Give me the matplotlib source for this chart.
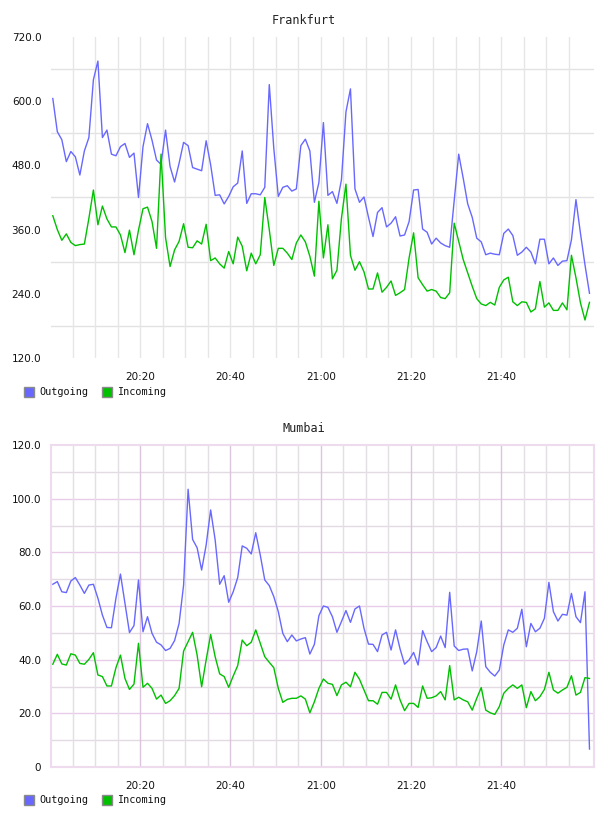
import numpy as np
import matplotlib
matplotlib.use('Agg')
import matplotlib.pyplot as plt
from matplotlib.patches import Rectangle
from matplotlib.ticker import FuncFormatter

# one sample per minute, minutes after 20:00
minutes = np.arange(120) + 0.6
time_ticks = [20, 40, 60, 80, 100]

fra_out = [605, 543, 528, 487, 506, 496, 462, 507, 532, 640,
           675, 532, 546, 501, 498, 515, 521, 495, 503, 420,
           515, 558, 527, 490, 482, 546, 478, 449, 484, 523,
           517, 476, 473, 470, 526, 481, 424, 425, 408, 422,
           440, 447, 507, 409, 427, 427, 425, 439, 631, 512,
           422, 439, 442, 432, 436, 517, 529, 507, 411, 448,
           560, 424, 431, 409, 453, 580, 623, 436, 411, 421,
           383, 347, 392, 401, 365, 372, 384, 348, 350, 375,
           434, 435, 361, 355, 333, 344, 335, 330, 327, 414,
           501, 456, 408, 383, 344, 337, 313, 316, 314, 313,
           353, 361, 349, 312, 318, 327, 318, 296, 342, 342,
           296, 307, 293, 301, 302, 341, 416, 353, 294, 241]
fra_in = [386, 360, 340, 352, 336, 330, 332, 333, 381, 434,
          369, 404, 380, 365, 365, 350, 317, 359, 313, 359,
          399, 402, 375, 325, 501, 345, 291, 322, 338, 371,
          327, 326, 339, 333, 370, 302, 307, 296, 288, 319,
          296, 346, 329, 283, 316, 296, 313, 420, 360, 293,
          325, 325, 316, 304, 335, 350, 337, 310, 273, 413,
          307, 369, 268, 284, 381, 445, 312, 284, 300, 281,
          249, 249, 279, 243, 252, 264, 237, 242, 248, 307,
          354, 270, 257, 245, 248, 245, 233, 231, 242, 372,
          338, 304, 279, 254, 231, 221, 218, 224, 219, 252,
          266, 271, 225, 218, 225, 224, 206, 212, 263, 215,
          223, 209, 209, 223, 210, 312, 270, 223, 191, 224]

mum_out = [68.1, 69.1, 65.3, 65.0, 69.3, 70.6, 67.8, 64.7, 67.8, 68.1,
           62.9, 56.6, 52.0, 51.9, 62.9, 71.9, 61.0, 50.1, 52.7, 69.7,
           50.4, 56.0, 49.8, 46.5, 45.5, 43.4, 44.2, 47.1, 53.5, 67.8,
           103.5, 84.8, 81.7, 73.4, 82.7, 95.8, 84.6, 68.1, 71.3, 61.4,
           65.3, 70.6, 82.4, 81.5, 79.4, 87.3, 79.0, 69.7, 67.6, 63.5,
           57.9, 49.8, 46.7, 49.2, 47.0, 47.7, 48.2, 42.1, 45.7, 56.4,
           60.0, 59.5, 56.0, 50.2, 54.2, 58.3, 53.9, 58.9, 60.0, 51.7,
           45.8, 45.7, 43.0, 49.2, 50.2, 43.6, 51.1, 44.0, 38.3, 39.9,
           42.7, 38.0, 50.8, 46.7, 43.0, 44.5, 48.8, 44.5, 65.1, 45.1,
           43.4, 43.9, 44.0, 35.8, 43.0, 54.4, 37.4, 35.3, 33.9, 36.1,
           45.5, 51.1, 50.2, 51.7, 58.8, 44.8, 53.5, 50.4, 51.7, 55.4,
           68.8, 57.9, 54.4, 56.9, 56.6, 64.7, 56.0, 53.8, 65.3, 6.7]
mum_in = [38.3, 42.0, 38.4, 38.0, 42.2, 41.7, 38.6, 38.3, 40.1, 42.6,
          34.3, 33.7, 30.2, 30.2, 37.0, 41.7, 33.0, 28.9, 30.9, 46.1,
          29.7, 31.2, 29.3, 25.3, 26.8, 23.7, 24.7, 26.6, 29.3, 43.2,
          46.7, 50.2, 41.7, 29.9, 39.9, 49.4, 41.1, 34.7, 33.7, 29.7,
          33.9, 37.8, 47.3, 45.2, 46.5, 51.1, 46.1, 41.1, 39.0, 37.0,
          29.3, 24.1, 25.2, 25.6, 25.6, 26.5, 25.3, 20.2, 24.3, 29.3,
          32.8, 31.2, 30.8, 26.6, 30.6, 31.6, 29.9, 35.3, 32.7, 28.7,
          24.7, 24.7, 23.4, 27.8, 27.8, 25.3, 30.6, 25.0, 21.0, 23.7,
          23.7, 22.2, 30.2, 25.6, 25.8, 26.5, 28.1, 25.0, 37.8, 25.0,
          26.0, 25.0, 24.3, 21.2, 25.6, 29.6, 21.2, 20.2, 19.6, 22.5,
          27.5, 29.3, 30.6, 29.3, 30.6, 22.1, 28.1, 24.7, 26.2, 28.9,
          35.3, 28.7, 27.5, 28.7, 29.7, 34.0, 26.8, 27.8, 33.3, 33.0]

series_names = ['Outgoing', 'Incoming']
out_color = '#6868ff'
in_color = '#00c000'

W, H = 608, 816
fig = plt.figure(figsize=(W / 100, H / 100), dpi=100)


def box(left, top, right, bottom):
    # pixel box -> figure fraction rect
    return [left / W, 1 - bottom / H, (right - left) / W, (bottom - top) / H]


def time_label(m, pos):
    m = int(round(m))
    return '%d:%02d' % (20 + m // 60, m % 60)


def setup_axis(ax):
    ax.set_xlim(0.2, 120.6)
    ax.set_xticks(time_ticks)
    ax.xaxis.set_major_formatter(FuncFormatter(time_label))
    ax.tick_params(length=0, labelsize=7.5, colors='#111111')
    ax.tick_params(axis='x', pad=10)
    ax.tick_params(axis='y', pad=7)
    ax.set_axisbelow(True)


def legend_row(y):
    for x0, name, col in [(24, series_names[0], out_color), (102, series_names[1], in_color)]:
        fig.add_artist(Rectangle((x0 / W, 1 - (y + 5) / H), 10 / W, 10 / H,
                                 transform=fig.transFigure, facecolor=col,
                                 edgecolor='#8a8a8a', linewidth=1.0))
        fig.text((x0 + 15) / W, 1 - y / H, name, family='DejaVu Sans Mono',
                 fontsize=7.3, va='center', ha='left', color='#111111')


# Frankfurt
ax1 = fig.add_axes(box(51, 37, 594, 358))
for v in [180, 300, 420, 540, 660]:
    ax1.axhline(v, color='#e2e2e2', lw=1.0, zorder=0)
for m in range(5, 120, 5):
    ax1.axvline(m, color='#e6e6e6', lw=1.0, zorder=0)
ax1.plot(minutes, fra_out, color=out_color, lw=1.0)
ax1.plot(minutes, fra_in, color=in_color, lw=1.0)
ax1.set_ylim(120, 720)
ax1.set_yticks(np.arange(120, 721, 120))
ax1.yaxis.set_major_formatter(FuncFormatter(lambda v, p: '%.1f' % v))
for s in ax1.spines.values():
    s.set_visible(False)
setup_axis(ax1)
fig.text(0.5, 1 - 20 / H, 'Frankfurt', family='DejaVu Sans Mono', fontsize=8.5,
         ha='center', va='center', color='#222222')
legend_row(392)

# Mumbai
ax2 = fig.add_axes(box(51, 445, 594, 767))
for v in range(10, 120, 20):
    ax2.axhline(v, color='#e2dbe2', lw=1.0, zorder=0)
for v in range(20, 120, 20):
    ax2.axhline(v, color='#e8cce8', lw=1.0, zorder=0)
for m in range(5, 120, 5):
    ax2.axvline(m, color='#dcc4dc' if m % 20 == 0 else '#e4dfe4', lw=1.0, zorder=0)
ax2.plot(minutes, mum_out, color=out_color, lw=1.0)
ax2.plot(minutes, mum_in, color=in_color, lw=1.0)
ax2.set_ylim(0, 120)
ax2.set_yticks(np.arange(0, 121, 20))
ax2.yaxis.set_major_formatter(FuncFormatter(lambda v, p: '0' if v == 0 else '%.1f' % v))
for s in ax2.spines.values():
    s.set_color('#eedcee')
    s.set_linewidth(1.5)
setup_axis(ax2)
fig.text(0.5, 1 - 429 / H, 'Mumbai', family='DejaVu Sans Mono', fontsize=8.5,
         ha='center', va='center', color='#222222')
legend_row(800)

fig.savefig('out.png', dpi=100)
